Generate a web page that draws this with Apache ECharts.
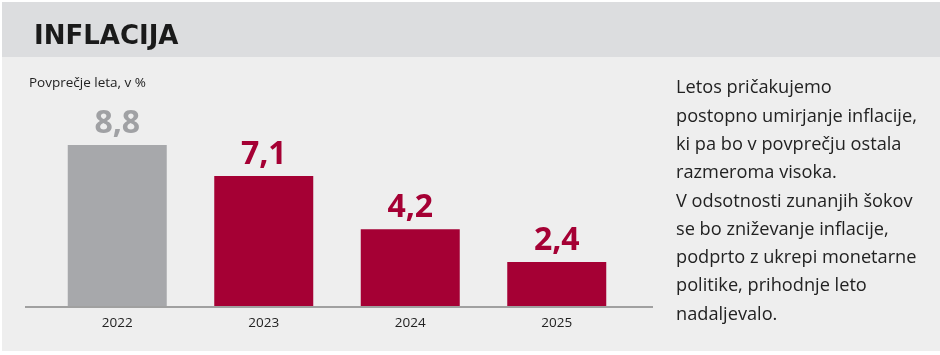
<!DOCTYPE html>
<html>
<head>
<meta charset="utf-8">
<script src="https://cdn.jsdelivr.net/npm/echarts@6/dist/echarts.min.js"></script>
<style>html,body{margin:0;padding:0;background:#fff}#c{width:940px;height:355px}</style>
</head>
<body>
<div id="c"></div>
<script>
var categories = ['2022', '2023', '2024', '2025'];
var values = [8.8, 7.1, 4.2, 2.4];
var labels = ['8,8', '7,1', '4,2', '2,4'];
var barColors = ['#a7a8ab', '#a50034', '#a50034', '#a50034'];
var labelColors = ['#a0a1a4', '#a50034', '#a50034', '#a50034'];
var titleText = 'INFLACIJA';
var unitText = 'Povprečje leta, v %';
var noteLines = [
  'Letos pričakujemo',
  'postopno umirjanje inflacije,',
  'ki pa bo v povprečju ostala',
  'razmeroma visoka.',
  'V odsotnosti zunanjih šokov',
  'se bo zniževanje inflacije,',
  'podprto z ukrepi monetarne',
  'politike, prihodnje leto',
  'nadaljevalo.'
];

var chart = echarts.init(document.getElementById('c'), null, {renderer: 'canvas'});
var option = {
  backgroundColor: '#ffffff',
  animation: false,
  title: [
    {text: titleText, left: 29, top: 19,
     textStyle: {fontFamily: 'DejaVu Sans', fontWeight: 'bold', fontSize: 26, color: '#1a1a1a'}},
    {text: unitText, left: 24, top: 71,
     textStyle: {fontFamily: 'Open Sans', fontWeight: 'normal', fontSize: 13.5, color: '#222'}}
  ],
  graphic: [
    {type: 'rect', z: -10, shape: {x: 2, y: 2, width: 938, height: 55}, style: {fill: '#dcdddf'}},
    {type: 'rect', z: -10, shape: {x: 2, y: 57, width: 938, height: 294}, style: {fill: '#eeeeee'}},
    {type: 'line', z: 10, shape: {x1: 25, y1: 307, x2: 653, y2: 307}, style: {stroke: '#a0a0a0', lineWidth: 2}},
    {type: 'text', left: 676, top: 74,
     style: {text: noteLines.join('\n'), fontFamily: 'Open Sans', fontSize: 18.2, lineHeight: 28.3, fill: '#222'}}
  ],
  grid: {left: 44, right: 310, top: 123, bottom: 49},
  xAxis: {
    type: 'category', data: categories,
    axisLine: {show: false}, axisTick: {show: false},
    axisLabel: {color: '#222', fontSize: 13.5, fontFamily: 'Open Sans', margin: 10}
  },
  yAxis: {type: 'value', min: 0, max: 10, show: false, splitLine: {show: false}},
  series: [{
    type: 'bar', barWidth: 99,
    data: values.map(function (v, i) {
      return {value: v, itemStyle: {color: barColors[i]},
        label: {color: labelColors[i]}};
    }),
    label: {
      show: true, position: 'top', distance: 5,
      fontFamily: 'Open Sans', fontWeight: 'bold', fontSize: 32,
      formatter: function (p) { return labels[p.dataIndex]; }
    }
  }]
};
chart.setOption(option);
</script>
</body>
</html>
